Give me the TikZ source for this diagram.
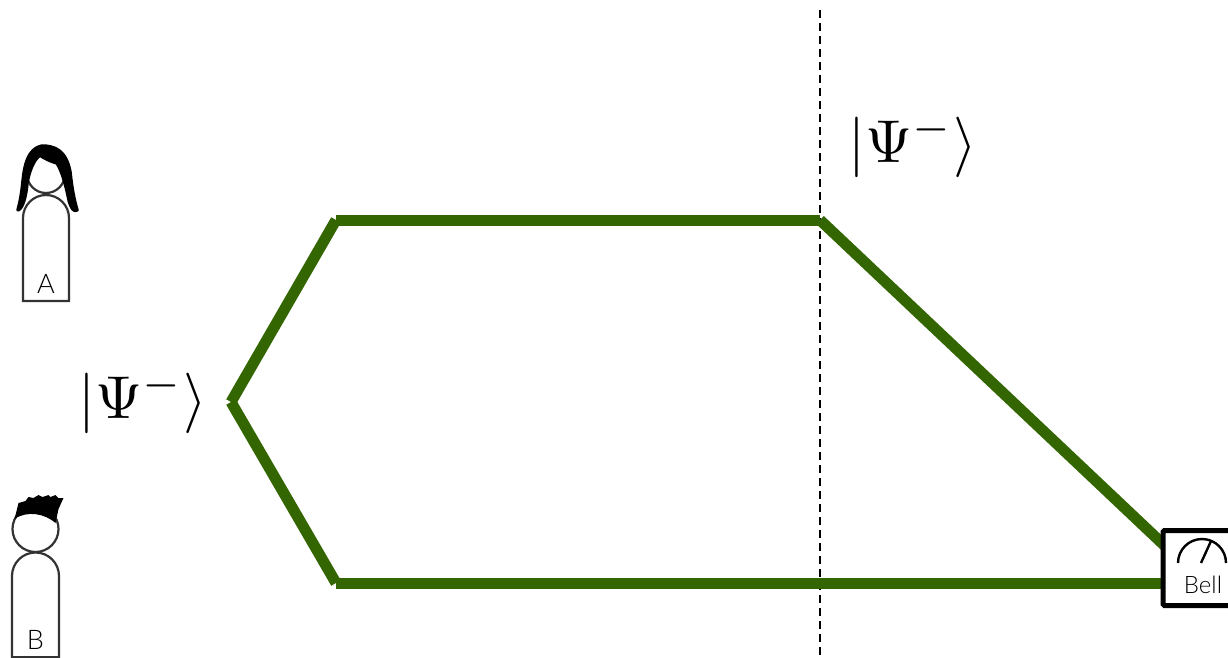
\documentclass[tikz,border=0pt]{standalone}
\usepackage{fontspec}
\setsansfont{Lato Light}
\usetikzlibrary{positioning}
\definecolor{PathGreen}{HTML}{336600}
\definecolor{BodyGrey}{HTML}{333333}
\tikzset{
    pair/.style={line width=11pt, PathGreen},
    person/.style={line width=2.2pt, BodyGrey},
    ketlabel/.style={inner sep=0pt, scale=6.05},
    tag/.style={inner sep=0pt, font=\fontsize{27}{27}\selectfont\sffamily},
    bellbox/.style={draw=black, line width=5pt, rounded corners=1.5pt, minimum width=80pt, minimum height=75pt, inner sep=0pt, outer sep=0pt}
}

\begin{document}
\begin{tikzpicture}[x=1pt, y=-1pt]
    \clip (0,0) rectangle (1228,658);

    % Cut between the two segments
    \draw[line width=1.7pt, dash pattern=on 8pt off 5pt] (820,10) -- (820,658);

    % Path corners
    \coordinate (source) at (231,402);
    \coordinate (upperleft) at (336,220);
    \coordinate (uppermid) at (820,220);
    \coordinate (lowerleft) at (336,583);
    \coordinate (upperin) at (1165,546);
    \coordinate (lowerin) at (1165,583);

    % Entangled pairs
    \draw[pair] (source) -- (upperleft);
    \draw[pair] (upperleft) -- (uppermid);
    \draw[pair] (uppermid) -- (upperin);
    \draw[pair] (source) -- (lowerleft);
    \draw[pair] (lowerleft) -- (lowerin);

    % State labels
    \node[ketlabel] (ketleft) at (143,402) {$|\Psi^-\rangle$};
    \node[ketlabel] (ketright) at (913,146) {$|\Psi^-\rangle$};

    % Bell measurement
    \node[bellbox, fill=white, anchor=west] (bell) at (1163,568) {};
    \draw[line width=2.4pt, black] (1178,563) arc (180:360:24);
    \draw[line width=2.4pt, black] (1201,563) -- (1211,541);
    \node[tag, font=\fontsize{24}{24}\selectfont\sffamily] (belltag) at (1203,585) {Bell};

    % Alice
    \begin{scope}[shift={(46,0)}]
        \draw[person] (0,174) circle (19);
        \draw[person, fill=white] (-23,301) -- (-23,218) arc (180:360:23) -- (23,301) -- cycle;
        \filldraw[black, line width=3.5pt, line join=round] (-28,210) .. controls (-26,203) and (-25,197) .. (-24,190)
            .. controls (-22,175) and (-22,150) .. (-4,146)
            .. controls (8,146) and (20,150) .. (24,172)
            .. controls (26,190) and (28,200) .. (31,210)
            .. controls (28,212) and (25,208) .. (23,200)
            .. controls (21,190) and (17,172) .. (11,163)
            .. controls (4,161) and (-2,158) .. (-6,155)
            .. controls (-13,160) and (-17,172) .. (-19,183)
            .. controls (-20,195) and (-23,208) .. (-28,210) -- cycle;
        \node[tag] (alicetag) at (0,284) {A};
    \end{scope}

    % Bob
    \begin{scope}[shift={(35.5,0)}]
        \draw[person] (0,529) circle (23);
        \draw[person, fill=white] (-23.5,660) -- (-23.5,576) arc (180:360:23.5) -- (23.5,660);
        \draw[person] (-23.5,657) -- (23.5,657);
        \fill[black] (-21,519) -- (-17,503) -- (-10,501) -- (-7,497) -- (-2,498) -- (3,495) -- (7,497)
            -- (13,495) -- (15,497) -- (20,495) -- (23,498) -- (28,498) -- (23,509) -- (20,523)
            .. controls (10,514) and (-8,510) .. (-21,519) -- cycle;
        \node[tag] (bobtag) at (0,640) {B};
    \end{scope}
\end{tikzpicture}
\end{document}
